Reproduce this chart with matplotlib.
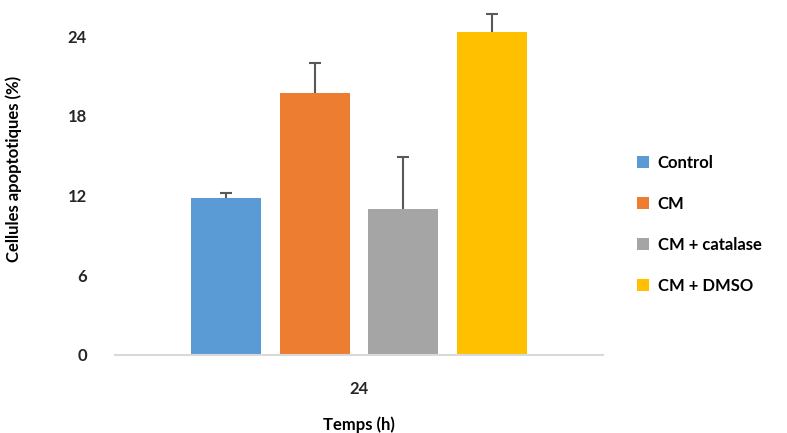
import numpy as np
import matplotlib
matplotlib.use('Agg')
import matplotlib.pyplot as plt

# Дані
groups = ['Control', 'CM', 'CM + catalase', 'CM + DMSO']
values = [11.8, 19.7, 11.0, 24.3]
errors = [0.4, 2.3, 3.9, 1.4]
colors = ['#5B9BD5', '#ED7D31', '#A5A5A5', '#FFC000']
category = '24'
yticks = [0, 6, 12, 18, 24]

plt.rcParams['font.family'] = ['Lato', 'DejaVu Sans']
plt.rcParams['font.weight'] = 'bold'

fig = plt.figure(figsize=(7.87, 4.33), dpi=100)
ax = fig.add_axes([0.146, 0.181, 0.620, 0.819])

step = 0.1818
width = 0.1434
offsets = (np.arange(len(groups)) - (len(groups) - 1) / 2) * step

for off, v, e, c, g in zip(offsets, values, errors, colors, groups):
    ax.bar(off, v, width=width, color=c, label=g, zorder=2)
    _, caps, _ = ax.errorbar(off, v, yerr=[[0], [e]], fmt='none', ecolor='#595959',
                             elinewidth=1.5, capsize=4.5, capthick=1.5, zorder=3)
    # тільки верхній ковпачок
    for cap in caps:
        if cap.get_ydata()[0] <= v:
            cap.set_visible(False)

ax.set_xlim(-0.5, 0.5)
ax.set_ylim(0, 26.75)
ax.set_yticks(yticks)
ax.set_yticklabels([str(t) for t in yticks], fontsize=12, fontweight='bold', color='#262626')
ax.set_xticks([0])
ax.set_xticklabels([category], fontsize=12, fontweight='bold', color='#262626')
ax.tick_params(axis='y', length=0, pad=20)
ax.tick_params(axis='x', length=0, pad=19)

for s in ['top', 'right', 'left']:
    ax.spines[s].set_visible(False)
ax.spines['bottom'].set_color('#D9D9D9')
ax.spines['bottom'].set_linewidth(1.5)

ax.set_ylabel('Cellules apoptotiques (%)', fontsize=12, fontweight='bold')
ax.set_xlabel('Temps (h)', fontsize=12, fontweight='bold', labelpad=14)
ax.yaxis.set_label_coords(-0.19, 0.525)

fig.legend(loc='upper left', bbox_to_anchor=(0.79, 0.677), frameon=False,
           prop={'size': 12, 'weight': 'bold'}, handlelength=0.75, handleheight=0.75,
           handletextpad=0.5, labelspacing=1.5)

plt.savefig('out.png', dpi=100)
